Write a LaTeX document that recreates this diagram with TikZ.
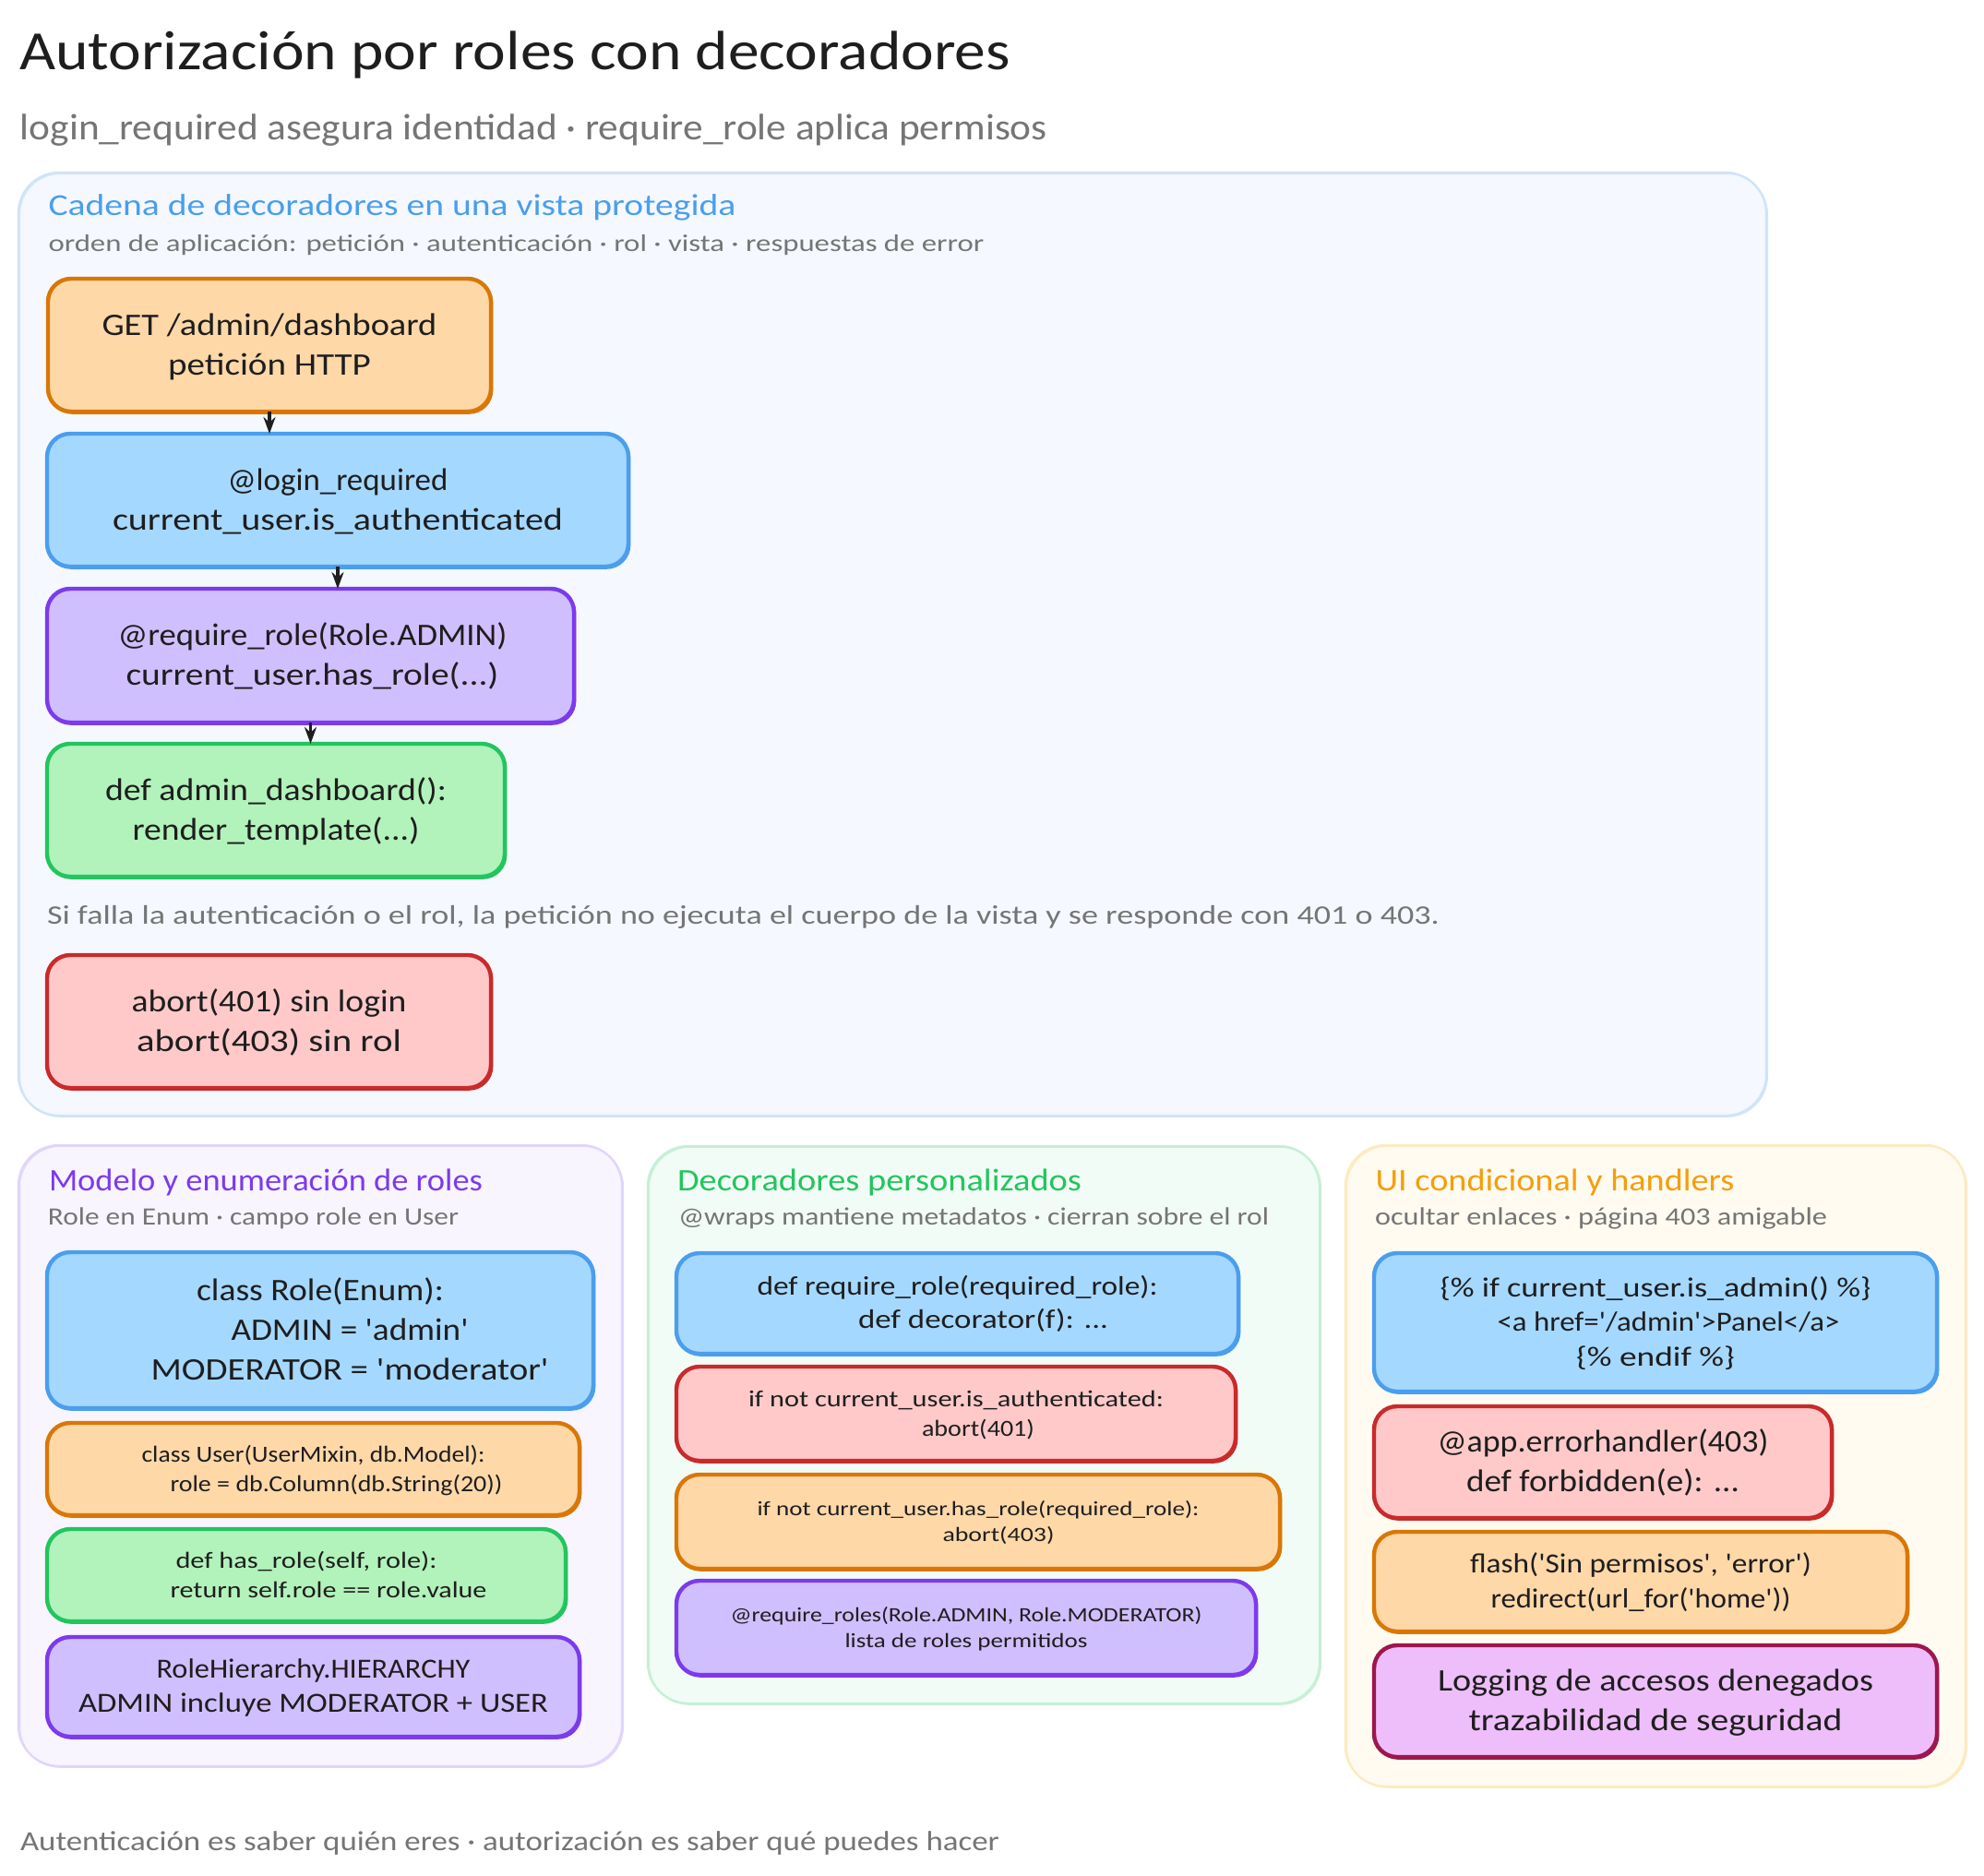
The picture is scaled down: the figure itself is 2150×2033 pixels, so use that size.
\documentclass[tikz,border=0pt]{standalone}
\usepackage{fontspec}
\usepackage{graphicx}
\usetikzlibrary{arrows.meta}
\newfontfamily\hand{Carlito}
\newsavebox\fitsave
\newlength\fitlen
% one text line: shift from centre, printed width, text (all in px)
\newcommand\fitln[3]{\leavevmode\sbox\fitsave{#3}\setlength\fitlen{\wd\fitsave}\pgfmathsetmacro\fitr{#2/\fitlen}\hbox to #2pt{\strut\kern #1pt\raisebox{-2pt}{\scalebox{\fitr}[1]{\usebox\fitsave}}\hss}}
\definecolor{ink}{HTML}{1E1E1E}
\definecolor{mute}{HTML}{757575}
\definecolor{hblue}{HTML}{4A9EED}
\definecolor{hviolet}{HTML}{7C3AED}
\definecolor{hgreen}{HTML}{22C55E}
\definecolor{hamber}{HTML}{F59E0B}
\definecolor{fblue}{HTML}{A5D8FF}
\definecolor{forange}{HTML}{FFD8A8}
\definecolor{sorange}{HTML}{D97706}
\definecolor{fviolet}{HTML}{D0BFFF}
\definecolor{fgreen}{HTML}{B2F2BB}
\definecolor{fred}{HTML}{FFC9C9}
\definecolor{sred}{HTML}{C92A2A}
\definecolor{fpink}{HTML}{EEBEFA}
\definecolor{spink}{HTML}{9D174D}
\definecolor{pblue}{HTML}{F5F8FF}
\definecolor{pviolet}{HTML}{F8F5FF}
\definecolor{pgreen}{HTML}{F2FCF6}
\definecolor{pamber}{HTML}{FFFBF0}
\definecolor{lblue}{HTML}{CFE4F9}
\definecolor{lviolet}{HTML}{E1D5FA}
\definecolor{lgreen}{HTML}{C6EFD6}
\definecolor{lamber}{HTML}{FDEAC0}
\tikzset{
  sz/.style n args={2}{font=\hand\fontsize{#1}{#2}\selectfont},
  bx/.style n args={2}{draw=#2, fill=#1, line width=4.4pt, rounded corners=25pt, inner sep=0pt, outer sep=0pt, align=center, text=ink,
     preaction={draw=#2, line width=2.4pt, transform canvas={shift={(1.2pt,-1.6pt)}}}},
  blubox/.style={bx={fblue}{hblue}},
  orabox/.style={bx={forange}{sorange}},
  viobox/.style={bx={fviolet}{hviolet}},
  grnbox/.style={bx={fgreen}{hgreen}},
  redbox/.style={bx={fred}{sred}},
  pnkbox/.style={bx={fpink}{spink}},
  panel/.style n args={2}{draw=#2, fill=#1, line width=2.4pt, rounded corners=44pt, inner sep=0pt, outer sep=0pt,
     postaction={draw=#2, line width=1.2pt, transform canvas={shift={(1.4pt,-1.2pt)}}}},
  txt/.style={anchor=base west, inner sep=0pt, outer sep=0pt, text=mute},
  arr/.style={draw=ink, line width=3.4pt, -{Stealth[length=18pt,width=13pt]}},
}
\begin{document}
\begin{tikzpicture}[x=1pt,y=-1pt]
\useasboundingbox[fill=white] (0,0) rectangle (2150,2033);
% title
\node[txt, text=ink, sz={60}{70}] (title) at (21,74) {\fitln{0}{1074}{Autorización por roles con decoradores}};
\node[txt, sz={40}{48}] (subtitle) at (22,150) {\fitln{0}{1113}{login\_required asegura identidad · require\_role aplica permisos}};
% panels
\node[panel={pblue}{lblue}, minimum width=1894pt, minimum height=1022pt] (pmain) at (967,698) {};
\node[panel={pviolet}{lviolet}, minimum width=654pt, minimum height=673pt] (pmodel) at (347,1577.5) {};
\node[panel={pgreen}{lgreen}, minimum width=728pt, minimum height=604pt] (pdeco) at (1066,1544) {};
\node[panel={pamber}{lamber}, minimum width=672pt, minimum height=695pt] (pui) at (1794,1588.5) {};
% main panel
\node[txt, text=hblue, sz={33}{40}] (hmain) at (52.5,232) {\fitln{0}{745}{Cadena de decoradores en una vista protegida}};
\node[txt, sz={26}{32}] (smain) at (52.5,271) {\fitln{0}{1014}{orden de aplicación: petición · autenticación · rol · vista · respuestas de error}};
\node[orabox, sz={34}{43}, minimum width=480pt, minimum height=144pt] (b1) at (292,374)
  {\fitln{0}{363}{GET /admin/dashboard}\\\fitln{0}{220}{petición HTTP}};
\node[blubox, sz={34}{43}, minimum width=630pt, minimum height=144pt] (b2) at (366,542)
  {\fitln{0}{239}{@login\_required}\\\fitln{0}{488}{current\_user.is\_authenticated}};
\node[viobox, sz={34}{43}, minimum width=571pt, minimum height=145pt] (b3) at (336.5,710.5)
  {\fitln{2}{422}{@require\_role(Role.ADMIN)}\\\fitln{2}{404}{current\_user.has\_role(...)}};
\node[grnbox, sz={34}{43}, minimum width=496pt, minimum height=144pt] (b4) at (299,878)
  {\fitln{0}{370}{def admin\_dashboard():}\\\fitln{0}{311}{render\_template(...)}};
\node[txt, sz={29}{35}] (note) at (51,999) {\fitln{0}{1509}{Si falla la autenticación o el rol, la petición no ejecuta el cuerpo de la vista y se responde con 401 o 403.}};
\node[redbox, sz={34}{43}, minimum width=481pt, minimum height=144pt] (b5) at (291.5,1107)
  {\fitln{0}{298}{abort(401) sin login}\\\fitln{0}{287}{abort(403) sin rol}};
\draw[arr] (b1.south) -- (b1.south |- b2.north);
\draw[arr] (b2.south) -- (b2.south |- b3.north);
\draw[arr] (b3.south) -- (b3.south |- b4.north);
% model panel
\node[txt, text=hviolet, sz={34}{40}] (hmodel) at (53,1288) {\fitln{0}{470}{Modelo y enumeración de roles}};
\node[txt, sz={27}{32}] (smodel) at (52,1325) {\fitln{0}{445}{Role en Enum · campo role en User}};
\node[blubox, sz={34}{43}, minimum width=592pt, minimum height=169pt] (m1) at (347,1441.5)
  {\fitln{0}{268}{class Role(Enum):}\\\fitln{32}{257}{ADMIN = 'admin'}\\\fitln{32}{431}{MODERATOR = 'moderator'}};
\node[orabox, sz={25}{31.5}, minimum width=577pt, minimum height=100pt] (m2) at (339.5,1592)
  {\fitln{0}{372}{class User(UserMixin, db.Model):}\\\fitln{25}{360}{role = db.Column(db.String(20))}};
\node[grnbox, sz={25}{31.5}, minimum width=562pt, minimum height=100pt] (m3) at (332,1707)
  {\fitln{0}{283}{def has\_role(self, role):}\\\fitln{24}{343}{return self.role == role.value}};
\node[viobox, sz={30}{37}, minimum width=577pt, minimum height=108pt] (m4) at (339.5,1828)
  {\fitln{0}{340}{RoleHierarchy.HIERARCHY}\\\fitln{0}{509}{ADMIN incluye MODERATOR + USER}};
% decorators panel
\node[txt, text=hgreen, sz={34}{40}] (hdeco) at (734,1288) {\fitln{0}{438}{Decoradores personalizados}};
\node[txt, sz={27}{32}] (sdeco) at (735,1325.5) {\fitln{0}{640}{@wraps mantiene metadatos · cierran sobre el rol}};
\node[blubox, sz={29}{36}, minimum width=609pt, minimum height=109pt] (d1) at (1037.5,1412.5)
  {\fitln{0}{434}{def require\_role(required\_role):}\\\fitln{28}{271}{def decorator(f): ...}};
\node[redbox, sz={25}{31.5}, minimum width=606pt, minimum height=102pt] (d2) at (1036,1532)
  {\fitln{0}{450}{if not current\_user.is\_authenticated:}\\\fitln{24}{122}{abort(401)}};
\node[orabox, sz={22}{27.5}, minimum width=654pt, minimum height=102pt] (d3) at (1060,1649)
  {\fitln{0}{479}{if not current\_user.has\_role(required\_role):}\\\fitln{22}{121}{abort(403)}};
\node[viobox, sz={22}{27.5}, minimum width=628pt, minimum height=102pt] (d4) at (1047,1764)
  {\fitln{0}{511}{@require\_roles(Role.ADMIN, Role.MODERATOR)}\\\fitln{0}{263}{lista de roles permitidos}};
% UI panel
\node[txt, text=hamber, sz={34}{40}] (hui) at (1490.5,1288) {\fitln{0}{389}{UI condicional y handlers}};
\node[txt, sz={27}{32}] (sui) at (1490,1325) {\fitln{0}{490}{ocultar enlaces · página 403 amigable}};
\node[blubox, sz={30}{37.5}, minimum width=610pt, minimum height=150pt] (u1) at (1794,1433)
  {\fitln{0}{467}{\{\% if current\_user.is\_admin() \%\}}\\\fitln{14}{371}{<a href='/admin'>Panel</a>}\\\fitln{0}{172}{\{\% endif \%\}}};
\node[redbox, sz={34}{42.5}, minimum width=496pt, minimum height=121pt] (u2) at (1737,1584.5)
  {\fitln{0}{359}{@app.errorhandler(403)}\\\fitln{0}{296}{def forbidden(e): ...}};
\node[orabox, sz={30}{38}, minimum width=578pt, minimum height=108pt] (u3) at (1778,1714)
  {\fitln{0}{370}{flash('Sin permisos', 'error')}\\\fitln{0}{325}{redirect(url\_for('home'))}};
\node[pnkbox, sz={34}{42.5}, minimum width=610pt, minimum height=121pt] (u4) at (1794,1843.5)
  {\fitln{0}{472}{Logging de accesos denegados}\\\fitln{0}{405}{trazabilidad de seguridad}};
% footer
\node[txt, sz={30}{36}] (footer) at (22,2003) {\fitln{0}{1061}{Autenticación es saber quién eres · autorización es saber qué puedes hacer}};
\end{tikzpicture}
\end{document}
